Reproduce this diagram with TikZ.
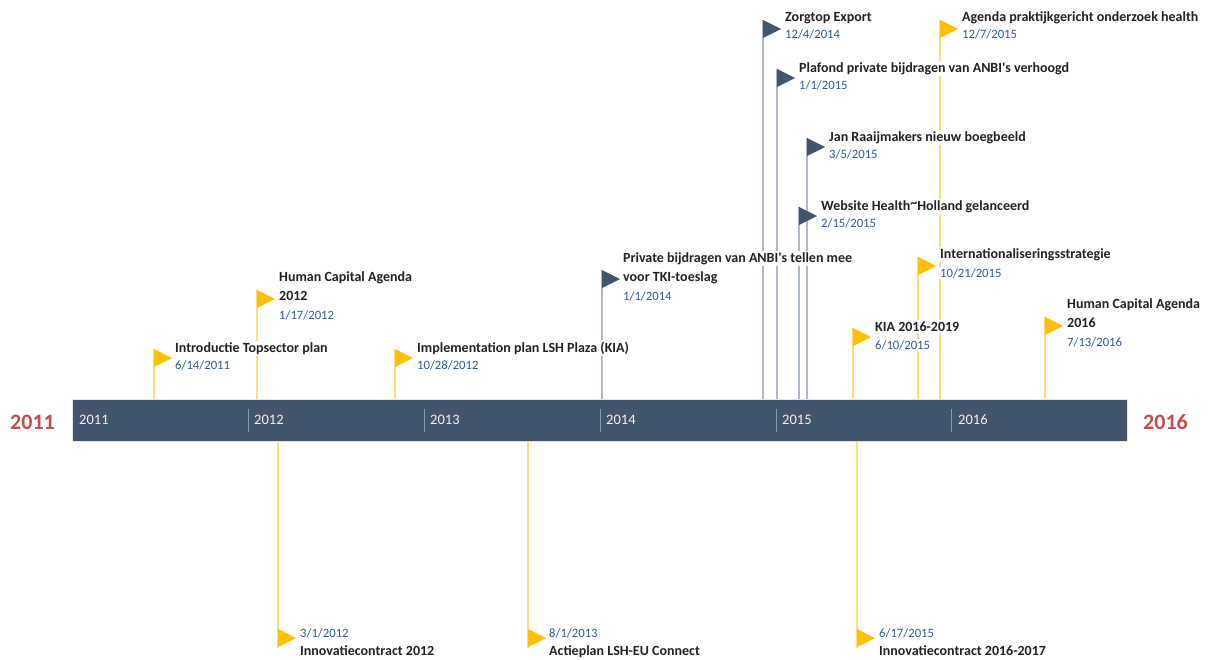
\documentclass[tikz,border=0pt]{standalone}
\usepackage{fontspec}
\setmainfont{Carlito}
\definecolor{barcol}{HTML}{44546A}
\definecolor{ylw}{HTML}{FFC000}
\definecolor{ylwline}{HTML}{FFDD7A}
\definecolor{gryline}{HTML}{ADB9CA}
\definecolor{datecol}{HTML}{2F5A96}
\definecolor{titlecol}{HTML}{222222}
\definecolor{bigred}{HTML}{C0504D}
\definecolor{yrtxt}{HTML}{F2F2F2}
\definecolor{tickcol}{HTML}{8A9AB2}
\newcommand\flagup[5]{%
  \coordinate (#1-b) at (#2,399);
  \coordinate (#1-t) at (#2,#3);
  \draw[#4] (#1-b) -- (#1-t);
  \fill[#5] (#1-t) -- ++(18,9) -- ++(-18,9) -- cycle;
}
\newcommand\flagdn[4]{%
  \coordinate (#1-b) at (#2,441);
  \coordinate (#1-e) at (#2,648);
  \coordinate (#1-t) at (#2,629);
  \draw[#3] (#1-b) -- (#1-e);
  \fill[#4] (#1-t) -- ++(18,9) -- ++(-18,9) -- cycle;
}
\begin{document}
\begin{tikzpicture}[x=1pt,y=-1pt,
  yl/.style={ylwline,line width=1.1pt},
  gl/.style={gryline,line width=1.1pt},
  yf/.style={ylw},
  gf/.style={barcol},
  ttl/.style={anchor=base west,inner xsep=1pt,inner ysep=1.5pt,fill=white,text=titlecol,font=\fontsize{14}{16}\selectfont\bfseries},
  dt/.style={anchor=base west,inner xsep=1pt,inner ysep=1pt,fill=white,text=datecol,font=\fontsize{12.7}{14}\selectfont},
  yr/.style={anchor=base west,inner sep=0pt,text=yrtxt,font=\fontsize{14.5}{16}\selectfont},
  big/.style={anchor=base west,inner sep=0pt,text=bigred,font=\fontsize{22}{24}\selectfont\bfseries},
  tick/.style={tickcol,line width=0.8pt}]
\useasboundingbox[fill=white] (0,0) rectangle (1218,659);
% bar
\node[draw=white!85!barcol,line width=0.6pt,fill=barcol,minimum width=1055pt,minimum height=42pt,inner sep=0pt,anchor=north west] (bar) at (72,399) {};
\node[big] (y11) at (10,429) {2011};
\node[big] (y16) at (1143,429) {2016};
\node[yr] (l2011) at (79,424) {2011};
\node[yr] (l2012) at (254,424) {2012};
\node[yr] (l2013) at (430,424) {2013};
\node[yr] (l2014) at (606,424) {2014};
\node[yr] (l2015) at (782,424) {2015};
\node[yr] (l2016) at (958,424) {2016};
\foreach \t/\xx in {a/248,b/424,c/600,d/776,e/951}{
  \coordinate (tk\t1) at (\xx,409);
  \coordinate (tk\t2) at (\xx,432);
  \draw[tick] (tk\t1) -- (tk\t2);
}
% lines and flags first
\flagup{e1}{154}{349}{yl}{yf}
\flagup{e2}{257}{290}{yl}{yf}
\flagup{e3}{395}{349}{yl}{yf}
\flagup{e4}{602}{270}{gl}{gf}
\flagup{e5}{763}{20}{gl}{gf}
\flagup{e6}{777}{69}{gl}{gf}
\flagup{e7}{807}{138}{gl}{gf}
\flagup{e8}{799}{207}{gl}{gf}
\flagup{e9}{853}{328}{yl}{yf}
\flagup{e10}{918}{257}{yl}{yf}
\flagup{e11}{940}{20}{yl}{yf}
\flagup{e12}{1045}{317}{yl}{yf}
\flagdn{f1}{278}{yl}{yf}
\flagdn{f2}{528}{yl}{yf}
\flagdn{f3}{857}{yl}{yf}
% texts
\node[ttl] (e1a) at (174,352) {Introductie Topsector plan};
\node[dt] (e1d) at (174,369) {6/14/2011};

\node[ttl] (e2a) at (278,281) {Human Capital Agenda};
\node[ttl] (e2b) at (278,300) {2012};
\node[dt] (e2d) at (278,319) {1/17/2012};

\node[ttl] (e3a) at (416,352) {Implementation plan LSH Plaza (KIA)};
\node[dt] (e3d) at (416,369) {10/28/2012};

\node[ttl] (e4a) at (622,262) {Private bijdragen van ANBI\textquotesingle s tellen mee};
\node[ttl] (e4b) at (622,281) {voor TKI-toeslag};
\node[dt] (e4d) at (622,300) {1/1/2014};

\node[ttl] (e5a) at (784,21) {Zorgtop Export};
\node[dt] (e5d) at (784,38) {12/4/2014};

\node[ttl] (e6a) at (798,72) {Plafond private bijdragen van ANBI\textquotesingle s verhoogd};
\node[dt] (e6d) at (798,89) {1/1/2015};

\node[ttl] (e7a) at (828,141) {Jan Raaijmakers nieuw boegbeeld};
\node[dt] (e7d) at (828,158) {3/5/2015};

\node[ttl] (e8a) at (820,210) {Website Health\raisebox{0.3ex}{\textasciitilde}Holland gelanceerd};
\node[dt] (e8d) at (820,227) {2/15/2015};

\node[ttl] (e9a) at (874,331) {KIA 2016-2019};
\node[dt] (e9d) at (874,349) {6/10/2015};

\node[ttl] (e10a) at (939,258) {Internationaliseringsstrategie};
\node[dt] (e10d) at (939,277) {10/21/2015};

\node[ttl] (e11a) at (961,21) {Agenda praktijkgericht onderzoek health};
\node[dt] (e11d) at (961,38) {12/7/2015};

\node[ttl] (e12a) at (1066,308) {Human Capital Agenda};
\node[ttl] (e12b) at (1066,327) {2016};
\node[dt] (e12d) at (1066,346) {7/13/2016};

\node[dt] (f1d) at (299,637) {3/1/2012};
\node[ttl] (f1a) at (299,655) {Innovatiecontract 2012};

\node[dt] (f2d) at (548,637) {8/1/2013};
\node[ttl] (f2a) at (548,655) {Actieplan LSH-EU Connect};

\node[dt] (f3d) at (878,637) {6/17/2015};
\node[ttl] (f3a) at (878,655) {Innovatiecontract 2016-2017};
\end{tikzpicture}
\end{document}
